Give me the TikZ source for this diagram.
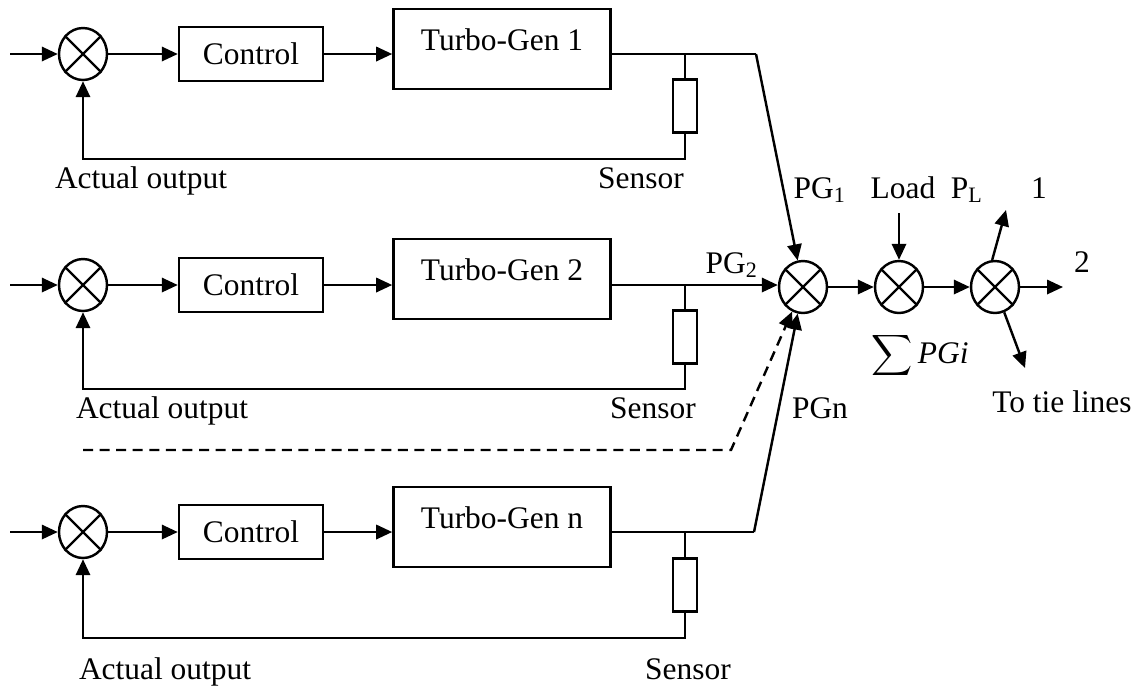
\documentclass[tikz,border=0pt]{standalone}
\usepackage{fontspec}
\setmainfont{Liberation Serif}
\usetikzlibrary{arrows.meta,shapes.geometric}

\begin{document}
\begin{tikzpicture}[x=0.35pt,y=-0.35pt,line width=0.85pt,>={Triangle[length=5.6pt,width=5pt]},
  font=\fontsize{11}{13}\selectfont,
  sumnode/.style={ellipse,draw,minimum width=16.8pt,minimum height=18.2pt,inner sep=0pt},
  ctrlbox/.style={rectangle,draw,minimum width=50.4pt,minimum height=18.9pt,inner sep=0pt},
  genbox/.style={rectangle,draw,minimum width=76pt,minimum height=28pt,inner sep=0pt,text depth=6.3pt},
  sensbox/.style={rectangle,draw,minimum width=8.4pt,minimum height=18.5pt,inner sep=0pt},
  lbl/.style={inner sep=0pt,anchor=base}]
\useasboundingbox (0,0) rectangle (1144,687);

% row 1
\node[sumnode] (s1) at (83,54) {};
\node[ctrlbox] (c1) at (251,54) {Control};
\node[genbox] (g1) at (502,49) {Turbo-Gen 1};
\node[sensbox] (r1) at (685,106) {};
\coordinate (i1) at (10,54);
\coordinate (j1) at (685,54);
\coordinate (f1) at (685,159);
\coordinate (p1) at (756,54);
\node[lbl] (a1) at (141,188) {Actual output};
\node[lbl] (n1) at (641,188) {Sensor};

% row 2
\node[sumnode] (s2) at (83,285) {};
\node[ctrlbox] (c2) at (251,285) {Control};
\node[genbox] (g2) at (502,279) {Turbo-Gen 2};
\node[sensbox] (r2) at (685,337) {};
\coordinate (i2) at (10,285);
\coordinate (j2) at (685,285);
\coordinate (f2) at (685,389);
\node[lbl] (a2) at (162,418) {Actual output};
\node[lbl] (n2) at (653,418) {Sensor};

% row n
\node[sumnode] (s3) at (83,532) {};
\node[ctrlbox] (c3) at (251,532) {Control};
\node[genbox] (g3) at (502,527) {Turbo-Gen n};
\node[sensbox] (r3) at (685,585) {};
\coordinate (i3) at (10,532);
\coordinate (j3) at (685,532);
\coordinate (f3) at (685,638);
\coordinate (p3) at (754,532);
\node[lbl] (a3) at (165,679) {Actual output};
\node[lbl] (n3) at (688,679) {Sensor};

% summing junctions
\node[sumnode] (sg) at (803,287) {};
\node[sumnode] (sl) at (899,287) {};
\node[sumnode] (st) at (995,287) {};
\coordinate (ld) at (899,213);
\coordinate (o1) at (1006,210);
\coordinate (o2) at (1063,287);
\coordinate (o3) at (1025,368);
\coordinate (d1) at (83,450);
\coordinate (d2) at (731,450);
\node[lbl] (pg1) at (820,198) {PG\textsubscript{1}};
\node[lbl] (pg2) at (732,273) {PG\textsubscript{2}};
\node[lbl] (pgn) at (820,418) {PGn};
\node[lbl] (lo) at (903,198) {Load};
\node[lbl] (pl) at (967,198) {P\textsubscript{L}};
\node[lbl] (t1) at (1039,198) {1};
\node[lbl] (t2) at (1082,272) {2};
\node[lbl] (sm) at (920,363) {$\displaystyle\sum$\,\textit{PGi}};
\node[lbl] (tl) at (1062,412) {To tie lines};

\foreach \s in {s1,s2,s3,sg,sl,st}
  \draw (\s.45) -- (\s.225) (\s.135) -- (\s.-45);

% loop 1
\draw[->] (i1) -- (s1);
\draw[->] (s1) -- (c1);
\draw[->] (c1) -- (c1.east -| g1.west);
\draw (g1.east |- j1) -- (j1) -- (p1);
\draw[->] (p1) -- (sg);
\draw (j1) -- (r1.north);
\draw[->] (r1.south) -- (f1) -- (f1 -| s1) -- (s1);

% loop 2
\draw[->] (i2) -- (s2);
\draw[->] (s2) -- (c2);
\draw[->] (c2) -- (c2.east -| g2.west);
\draw[->] (g2.east |- j2) -- (j2) -- (j2 -| sg.west);
\draw (j2) -- (r2.north);
\draw[->] (r2.south) -- (f2) -- (f2 -| s2) -- (s2);

% loop n
\draw[->] (i3) -- (s3);
\draw[->] (s3) -- (c3);
\draw[->] (c3) -- (c3.east -| g3.west);
\draw (g3.east |- j3) -- (j3) -- (p3);
\draw[->] (p3) -- (sg);
\draw (j3) -- (r3.north);
\draw[->] (r3.south) -- (f3) -- (f3 -| s3) -- (s3);
\draw[->,dash pattern=on 3.5pt off 2.3pt] (d1) -- (d2) -- (sg);

% load and tie lines
\draw[->] (sg) -- (sl);
\draw[->] (sl) -- (st);
\draw[->] (st) -- (o2);
\draw[->] (ld) -- (sl);
\draw[->] (st.96) -- (o1);
\draw[->] (st.-70) -- (o3);
\end{tikzpicture}
\end{document}
